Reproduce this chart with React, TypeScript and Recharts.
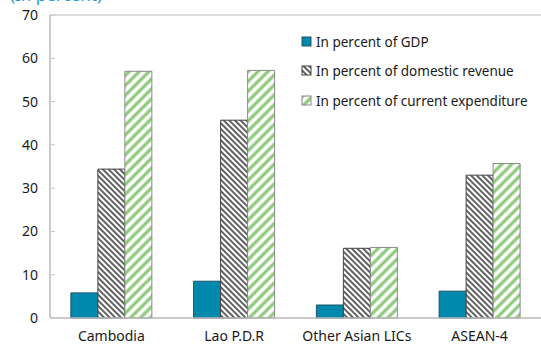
import { BarChart, Bar, XAxis, YAxis, ReferenceLine } from 'recharts';

const CATEGORIES = ['Cambodia', 'Lao P.D.R', 'Other Asian LICs', 'ASEAN-4'];
const GDP = [5.8, 8.5, 3.0, 6.2];
const DOMESTIC_REVENUE = [34.4, 45.7, 16.1, 33.0];
const CURRENT_EXPENDITURE = [57.0, 57.2, 16.3, 35.7];
const Y_TICKS = [0, 10, 20, 30, 40, 50, 60, 70];

const SERIES = [
  { key: 'gdp', name: 'In percent of GDP', fill: '#0089ad', stroke: '#1d5366' },
  { key: 'rev', name: 'In percent of domestic revenue', fill: 'url(#hatchRev)', stroke: '#444444' },
  { key: 'exp', name: 'In percent of current expenditure', fill: 'url(#hatchExp)', stroke: '#8a8a8a' },
];

const data = CATEGORIES.map((c, i) => ({
  name: c,
  gdp: GDP[i],
  rev: DOMESTIC_REVENUE[i],
  exp: CURRENT_EXPENDITURE[i],
}));

const FONT = '"Noto Sans", "Open Sans", sans-serif';

function LegendBox() {
  return (
    <div style={{ position: 'absolute', left: 301, top: 27, fontFamily: FONT, fontSize: 13.5, color: '#1a1a1a' }}>
      {SERIES.map((s) => (
        <div key={s.key} style={{ display: 'flex', alignItems: 'center', height: 29.5, whiteSpace: 'nowrap' }}>
          <svg width={12} height={12} style={{ marginRight: 3 }}>
            <rect x={1} y={1} width={9} height={9} fill={s.fill} stroke={s.stroke} strokeWidth={1} />
          </svg>
          <span>{s.name}</span>
        </div>
      ))}
    </div>
  );
}

export default function App() {
  return (
    <div style={{ position: 'relative', width: 541, height: 346, background: '#fff', overflow: 'hidden' }}>
      <style>{`body{margin:0}`}</style>
      <div
        style={{
          position: 'absolute',
          left: 10,
          top: -17,
          fontFamily: FONT,
          fontSize: 17,
          color: '#1f9ad0',
          whiteSpace: 'nowrap',
        }}
      >
        (In percent)
      </div>
      <BarChart
        width={541}
        height={346}
        data={data}
        margin={{ top: 15, right: 0, bottom: 0, left: 0 }}
        barCategoryGap="17%"
        barGap={0}
      >
        <defs>
          <pattern id="hatchRev" patternUnits="userSpaceOnUse" width={4} height={4} patternTransform="rotate(-45)">
            <rect width={4} height={4} fill="#fff" />
            <line x1={1} y1={0} x2={1} y2={4} stroke="#3a3a3a" strokeWidth={1.6} />
          </pattern>
          <pattern id="hatchExp" patternUnits="userSpaceOnUse" width={7} height={7} patternTransform="rotate(45)">
            <rect width={7} height={7} fill="#fff" />
            <line x1={2} y1={0} x2={2} y2={7} stroke="#8cc97a" strokeWidth={3.2} />
          </pattern>
        </defs>
        <ReferenceLine y={70} stroke="#d0d0d0" strokeWidth={1.5} />
        <XAxis
          dataKey="name"
          height={28}
          axisLine={{ stroke: '#b8b8b8', strokeWidth: 1.5 }}
          tickLine={false}
          tick={{ fontSize: 14, fill: '#1a1a1a', fontFamily: FONT }}
          tickMargin={7}
          interval={0}
        />
        <YAxis
          domain={[0, 70]}
          ticks={Y_TICKS}
          width={50}
          axisLine={{ stroke: '#b8b8b8', strokeWidth: 1.5 }}
          tickLine={{ stroke: '#c8c8c8' }}
          tickSize={-5}
          tick={{ fontSize: 14, fill: '#1a1a1a', fontFamily: FONT }}
          tickMargin={17}
        />
        {SERIES.map((s) => (
          <Bar
            key={s.key}
            dataKey={s.key}
            name={s.name}
            fill={s.fill}
            stroke={s.stroke}
            strokeWidth={1}
            isAnimationActive={false}
          />
        ))}
      </BarChart>
      <LegendBox />
    </div>
  );
}
